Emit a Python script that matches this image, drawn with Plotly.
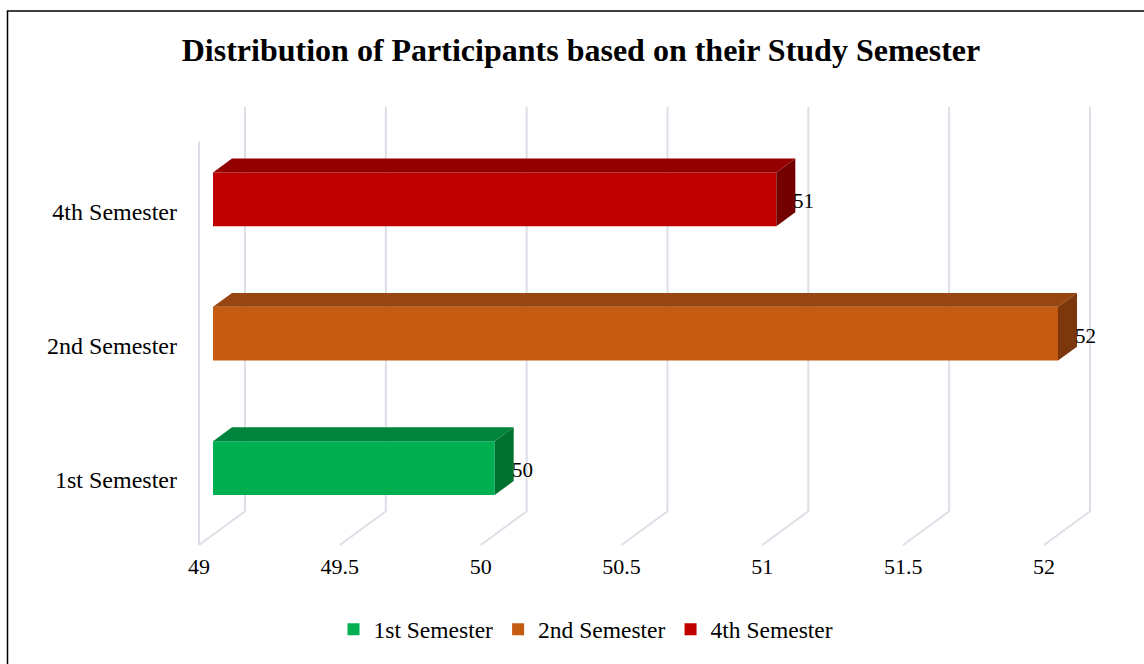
import plotly.graph_objects as go

# ---- data ----
categories = ["1st Semester", "2nd Semester", "4th Semester"]
participants = [50, 52, 51]
front_colors = ["#00B050", "#C55A11", "#C00000"]
top_colors = ["#00833C", "#974511", "#940000"]
side_colors = ["#00722F", "#7C380C", "#740000"]
x_ticks = [49, 49.5, 50, 50.5, 51, 51.5, 52]
x_base = 49

# ---- layout geometry (pixels -> axis units) ----
W, H = 1144, 664
PLOT_L, PLOT_R, PLOT_T, PLOT_B = 186, 1110, 100, 550
PX_X = (1058 - 213) / 3.0        # px per x unit
PX_Y = 135.25                    # px per category step
X0_PX = 213                      # pixel of x_base on the bar front plane
Y0_PX = 470.5                    # pixel of the first category centre

x_range = [x_base - (X0_PX - PLOT_L) / PX_X, x_base + (PLOT_R - X0_PX) / PX_X]
y_range = [(Y0_PX - PLOT_B) / PX_Y, (Y0_PX - PLOT_T) / PX_Y]

DEPTH_DX = 19 / PX_X             # bar depth, horizontal
DEPTH_DY = 14 / PX_Y             # bar depth, vertical
BAR_HALF = 0.2
BACK_DX = 32 / PX_X              # back wall plane offset
FLOOR_DX = -14 / PX_X            # front floor edge offset
WALL_TOP = (Y0_PX - 107) / PX_Y
WALL_BOTTOM = (Y0_PX - 514) / PX_Y
FLOOR_FRONT = (Y0_PX - 548) / PX_Y
LEFT_EDGE_TOP = (Y0_PX - 142) / PX_Y

FONT = "Liberation Serif"
fig = go.Figure()

# 3D-style gridlines (beneath the bars): back wall verticals folding onto the floor
grid_style = dict(color="#DCDFE6", width=2)
for t in x_ticks:
    path = (f"M {t + BACK_DX},{WALL_TOP} L {t + BACK_DX},{WALL_BOTTOM} "
            f"L {t + FLOOR_DX},{FLOOR_FRONT}")
    fig.add_shape(type="path", xref="x", yref="y", path=path,
                  line=grid_style, layer="below")
fig.add_shape(type="line", xref="x", yref="y",
              x0=x_base + FLOOR_DX, x1=x_base + FLOOR_DX,
              y0=LEFT_EDGE_TOP, y1=FLOOR_FRONT, line=grid_style, layer="below")

# front faces (real bars, also drive the legend)
for i, (cat, v) in enumerate(zip(categories, participants)):
    fig.add_trace(go.Bar(name=cat, y=[i], x=[v - x_base], base=[x_base],
                         orientation="h", width=2 * BAR_HALF,
                         marker=dict(color=front_colors[i], line=dict(width=0)),
                         hoverinfo="skip"))

# top and side faces of each bar
for i, (cat, v) in enumerate(zip(categories, participants)):
    c = i
    top_x = [x_base, x_base + DEPTH_DX, v + DEPTH_DX, v, x_base]
    top_y = [c + BAR_HALF, c + BAR_HALF + DEPTH_DY, c + BAR_HALF + DEPTH_DY,
             c + BAR_HALF, c + BAR_HALF]
    fig.add_trace(go.Scatter(x=top_x, y=top_y, mode="lines", fill="toself",
                             fillcolor=top_colors[i], line=dict(width=0, color=top_colors[i]),
                             showlegend=False, hoverinfo="skip"))
    side_x = [v, v + DEPTH_DX, v + DEPTH_DX, v, v]
    side_y = [c + BAR_HALF, c + BAR_HALF + DEPTH_DY, c - BAR_HALF + DEPTH_DY,
              c - BAR_HALF, c + BAR_HALF]
    fig.add_trace(go.Scatter(x=side_x, y=side_y, mode="lines", fill="toself",
                             fillcolor=side_colors[i], line=dict(width=0, color=side_colors[i]),
                             showlegend=False, hoverinfo="skip"))
    fig.add_annotation(x=v + DEPTH_DX, y=i, text=str(v), showarrow=False,
                       xanchor="left", yanchor="middle", xshift=-4, yshift=-2,
                       font=dict(family=FONT, size=21, color="#000000"))

fig.update_layout(
    width=W, height=H,
    margin=dict(l=PLOT_L, r=W - PLOT_R, t=PLOT_T, b=H - PLOT_B),
    paper_bgcolor="white", plot_bgcolor="white",
    barmode="overlay",
    title=dict(text="<b>Distribution of Participants based on their Study Semester</b>",
               x=581 / W, xref="container", xanchor="center",
               y=1 - 50 / H, yref="container", yanchor="middle",
               font=dict(family=FONT, size=32, color="#000000")),
    xaxis=dict(range=x_range, tickvals=x_ticks, ticktext=[f"{t:g}" for t in x_ticks],
               showgrid=False, zeroline=False, showline=False, ticks="",
               ticklabelshift=-14, ticklabelstandoff=4,
               tickfont=dict(family=FONT, size=22, color="#000000")),
    yaxis=dict(range=y_range, tickvals=list(range(len(categories))), ticktext=categories,
               showgrid=False, zeroline=False, showline=False, ticks="",
               ticklabelshift=12, ticklabelstandoff=8,
               tickfont=dict(family=FONT, size=24, color="#000000")),
    legend=dict(orientation="h", x=(586 - PLOT_L) / (PLOT_R - PLOT_L), xanchor="center",
                y=(PLOT_B - 633) / (PLOT_B - PLOT_T), yanchor="middle",
                font=dict(family=FONT, size=23.5, color="#000000"),
                itemwidth=30, traceorder="normal"),
    showlegend=True,
)

# outer chart border
fig.add_shape(type="rect", xref="paper", yref="paper",
              x0=(7.5 - PLOT_L) / (PLOT_R - PLOT_L), x1=(W + 10 - PLOT_L) / (PLOT_R - PLOT_L),
              y0=(PLOT_B - 10.5) / (PLOT_B - PLOT_T), y1=(PLOT_B - H - 10) / (PLOT_B - PLOT_T),
              line=dict(color="#000000", width=1.5), fillcolor="rgba(0,0,0,0)", layer="below")

fig.write_html("out.html")
